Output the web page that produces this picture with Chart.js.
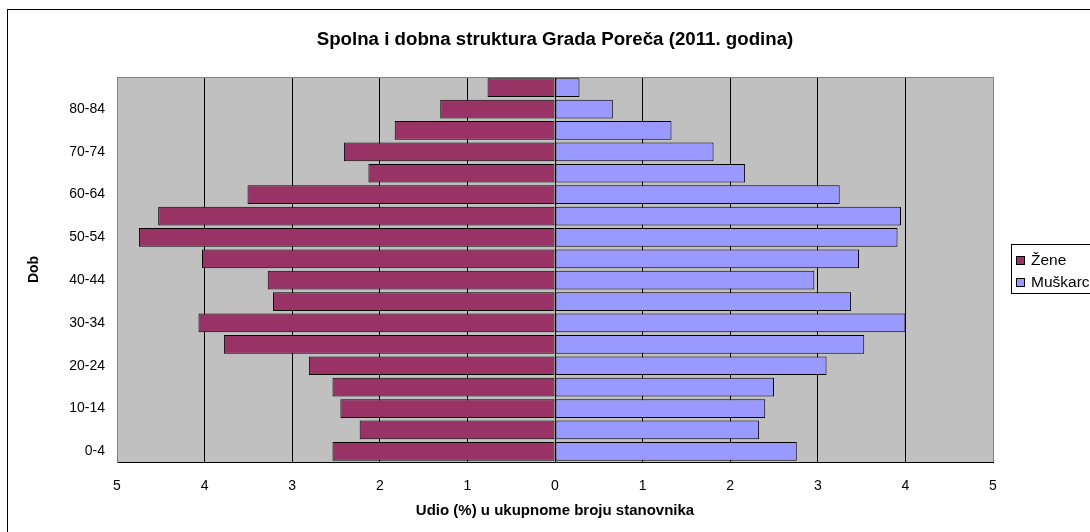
<!DOCTYPE html>
<html>
<head>
<meta charset="utf-8">
<title>Spolna i dobna struktura Grada Poreča</title>
<script src="https://cdn.jsdelivr.net/npm/chart.js@4.4.0/dist/chart.umd.min.js"></script>
<style>
  html, body { margin: 0; padding: 0; width: 1090px; height: 532px; overflow: hidden; background: #fff; }
  #frame { position: absolute; left: 7px; top: 9px; width: 1200px; height: 700px; border: 1px solid #000; }
  #chart { position: absolute; left: 0; top: 0; }
</style>
</head>
<body>
<div id="frame"></div>
<canvas id="chart" width="1090" height="532"></canvas>
<script>
const chartTitle = 'Spolna i dobna struktura Grada Poreča (2011. godina)';
const xTitle = 'Udio (%) u ukupnome broju stanovnika';
const yTitle = 'Dob';

// dobne skupine, odozdo prema gore
const ageGroups = ['0-4', '5-9', '10-14', '15-19', '20-24', '25-29', '30-34', '35-39', '40-44',
  '45-49', '50-54', '55-59', '60-64', '65-69', '70-74', '75-79', '80-84', '85+'];

// udio u %
const zene = [2.54, 2.23, 2.45, 2.54, 2.81, 3.78, 4.07, 3.22, 3.28,
  4.03, 4.75, 4.53, 3.51, 2.13, 2.41, 1.83, 1.31, 0.77];
const muskarci = [2.76, 2.33, 2.40, 2.50, 3.10, 3.53, 4.00, 3.38, 2.96,
  3.47, 3.91, 3.95, 3.25, 2.17, 1.81, 1.33, 0.66, 0.28];

const xTicks = [-5, -4, -3, -2, -1, 0, 1, 2, 3, 4, 5];

const FONT = '"Liberation Sans", Arial, sans-serif';

const plotBg = {
  id: 'plotBg',
  beforeDraw(chart) {
    const { ctx, chartArea: a } = chart;
    ctx.save();
    ctx.fillStyle = '#C0C0C0';
    ctx.fillRect(a.left, a.top, a.right - a.left, a.bottom - a.top);
    ctx.restore();
  },
  afterDraw(chart) {
    const { ctx, chartArea: a } = chart;
    ctx.save();
    // gornji rub
    ctx.strokeStyle = '#808080';
    ctx.lineWidth = 1;
    ctx.beginPath();
    ctx.moveTo(a.left, a.top + 0.5);
    ctx.lineTo(a.right, a.top + 0.5);
    ctx.stroke();

    // naslov
    ctx.fillStyle = '#000';
    ctx.font = 'bold 18.7px ' + FONT;
    ctx.textAlign = 'center';
    ctx.textBaseline = 'middle';
    ctx.fillText(chartTitle, (a.left + a.right) / 2, 40);

    // legenda
    const lx = 1011.5, ly = 244.5;
    ctx.fillStyle = '#fff';
    ctx.fillRect(lx, ly, 140, 49);
    ctx.strokeStyle = '#000';
    ctx.strokeRect(lx, ly, 140, 49);
    ctx.font = '15.5px ' + FONT;
    ctx.textAlign = 'left';
    chart.data.datasets.forEach((ds, i) => {
      const cy = 260.5 + i * 22.6;
      ctx.fillStyle = ds.backgroundColor;
      ctx.fillRect(1016.5, Math.round(cy) - 4.5, 8, 8);
      ctx.strokeStyle = '#000';
      ctx.strokeRect(1016.5, Math.round(cy) - 4.5, 8, 8);
      ctx.fillStyle = '#000';
      ctx.fillText(ds.label, 1031, cy);
    });
    ctx.restore();
  }
};

new Chart(document.getElementById('chart'), {
  type: 'bar',
  data: {
    labels: ageGroups,
    datasets: [
      {
        label: 'Žene',
        data: zene.map(v => -v),
        backgroundColor: '#993366',
        borderColor: '#000',
        borderWidth: 1,
        borderSkipped: false,
        categoryPercentage: 1,
        barPercentage: 0.875
      },
      {
        label: 'Muškarci',
        data: muskarci,
        backgroundColor: '#9999FF',
        borderColor: '#000',
        borderWidth: 1,
        borderSkipped: false,
        categoryPercentage: 1,
        barPercentage: 0.875
      }
    ]
  },
  options: {
    indexAxis: 'y',
    responsive: false,
    animation: false,
    devicePixelRatio: 1,
    layout: { padding: { left: 0, right: 97, top: 77, bottom: 0 } },
    plugins: {
      legend: { display: false },
      title: { display: false },
      tooltip: { enabled: false }
    },
    scales: {
      x: {
        type: 'linear',
        stacked: true,
        min: xTicks[0],
        max: xTicks[xTicks.length - 1],
        afterBuildTicks(scale) {
          scale.ticks = xTicks.map(v => ({ value: v }));
        },
        afterFit(scale) { scale.height = 70; },
        grid: {
          drawTicks: false,
          color: ctx => (Math.abs(ctx.tick.value) === 5 ? '#808080' : '#000')
        },
        border: { color: '#000' },
        ticks: {
          padding: 16,
          color: '#000',
          font: { family: FONT, size: 14 },
          callback: v => Math.abs(v)
        },
        title: {
          display: true,
          text: xTitle,
          color: '#000',
          font: { family: FONT, size: 15, weight: 'bold' },
          padding: { top: 0, bottom: 12 }
        }
      },
      y: {
        type: 'category',
        stacked: true,
        reverse: true,
        afterFit(scale) { scale.width = 117; },
        grid: { display: false, drawTicks: false },
        border: { color: '#808080' },
        ticks: {
          autoSkip: false,
          padding: 12,
          color: '#000',
          font: { family: FONT, size: 14 },
          callback(value, index) { return index % 2 === 0 ? this.getLabelForValue(value) : ''; }
        },
        title: {
          display: true,
          text: yTitle,
          color: '#000',
          font: { family: FONT, size: 14, weight: 'bold' },
          padding: { top: 26, bottom: 0 }
        }
      }
    }
  },
  plugins: [plotBg]
});
</script>
</body>
</html>
